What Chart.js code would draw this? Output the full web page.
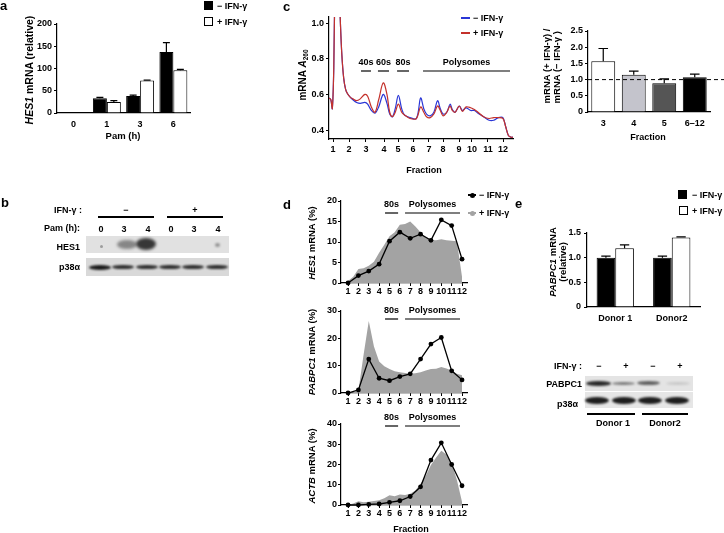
<!DOCTYPE html>
<html>
<head>
<meta charset="utf-8">
<script src="https://cdn.jsdelivr.net/npm/chart.js@4.4.1/dist/chart.umd.min.js"></script>
<style>
html, body { margin: 0; padding: 0; background: #fff; overflow: hidden; }
#page { position: relative; width: 724px; height: 533px; overflow: hidden;
        font-family: "Liberation Sans", Arial, sans-serif; font-weight: bold; color: #000; }
#page canvas { position: absolute; left: 0; top: 0; }
.t { position: absolute; white-space: nowrap; line-height: 1; font-size: 9px; }
.t sub { font-size: 6.5px; vertical-align: -2px; }
.blk { position: absolute; }
</style>
</head>
<body>
<div id="page"></div>
<script>
// ---- panel a : HES1 mRNA vs Pam time
const aCats = ['0', '1', '3', '6'];
const aMinus = [1, 33, 38, 137];
const aPlus = [1, 25, 73, 96];
const aMinusErr = [0, 2, 2, 21];
const aPlusErr = [0, 3, 1, 2];
const aYTicks = [0, 50, 100, 150, 200];

// ---- panel c (left) : A260 polysome profile
const cPos = [0, 1, 1.8, 2.6, 3.2, 4.2, 5.2, 6.2, 7, 8, 9, 10, 11.5, 13, 15, 17, 19.5, 21, 23, 25,
  27, 29.5, 31.5, 33, 34.5, 36, 37.7, 39.5, 41, 44, 47.5, 49.8, 51.5, 53, 55, 57, 59, 60.5, 62, 64,
  65.8, 67, 68.5, 70.8, 72.5, 74.5, 77, 79, 81, 84, 87, 89.5, 92, 94.5, 96, 97.5, 99, 100];
const cMinus = [0.58, 0.57, 0.52, 0.75, 1.2, 1.5, 1.3, 1.0, 0.82, 0.69, 0.63, 0.605, 0.585, 0.57, 0.555, 0.55, 0.555, 0.545, 0.51, 0.495,
  0.53, 0.6, 0.55, 0.49, 0.475, 0.52, 0.595, 0.52, 0.485, 0.47, 0.465, 0.58, 0.52, 0.49, 0.48, 0.5, 0.565, 0.52, 0.49, 0.5,
  0.545, 0.515, 0.5, 0.535, 0.51, 0.525, 0.51, 0.51, 0.495, 0.475, 0.455, 0.455, 0.47, 0.47, 0.42, 0.37, 0.36, 0.36];
const cPlus = [0.58, 0.57, 0.52, 0.75, 1.2, 1.5, 1.3, 1.0, 0.82, 0.69, 0.63, 0.605, 0.585, 0.575, 0.565, 0.575, 0.6, 0.59, 0.53, 0.5,
  0.57, 0.665, 0.6, 0.5, 0.475, 0.5, 0.545, 0.5, 0.485, 0.465, 0.465, 0.53, 0.5, 0.475, 0.47, 0.49, 0.535, 0.51, 0.48, 0.5,
  0.535, 0.51, 0.5, 0.535, 0.505, 0.53, 0.525, 0.515, 0.5, 0.475, 0.465, 0.47, 0.47, 0.465, 0.42, 0.37, 0.36, 0.36];
const cFracPos = [2.2, 10.9, 20.1, 29.9, 37.5, 45.7, 54.3, 62, 70.7, 77.7, 86.4, 94.6];
const cFracLabels = ['1', '2', '3', '4', '5', '6', '7', '8', '9', '10', '11', '12'];
const cYTicks = [0.4, 0.6, 0.8, 1.0];
const cBands = [
  { label: '40s', from: 17.4, to: 22.8 },
  { label: '60s', from: 26.6, to: 32.6 },
  { label: '80s', from: 37, to: 43.5 },
  { label: 'Polysomes', from: 51.1, to: 98.4 }
];

// ---- panel c (right) : ratio per fraction
const rCats = ['3', '4', '5', '6\u201312'];
const rRatio = [1.57, 1.15, 0.89, 1.07];
const rErr = [0.39, 0.11, 0.13, 0.1];
const rYTicks = [0, 0.5, 1, 1.5, 2, 2.5];

// ---- panel d : mRNA distribution across fractions
const dFrac = [1, 2, 3, 4, 5, 6, 7, 8, 9, 10, 11, 12];
const dFine = [1, 1.5, 2, 2.5, 3, 3.5, 4, 4.5, 5, 5.5, 6, 6.5, 7, 7.5, 8, 8.5, 9, 9.5, 10, 10.5, 11, 11.5, 12];
const hesMinus = [0, 1.8, 2.9, 4.6, 10.2, 12.4, 10.9, 11.9, 10.4, 15.4, 14.0, 5.8];
const hesPlus = [0.5, 1.5, 3.4, 3.6, 4.2, 5.2, 7.4, 9.3, 11.4, 12.4, 14.2, 14.4, 15.0, 13.8, 12.4, 11.0, 10.5, 10.4, 10.7, 10.4, 10.3, 10.2, 1.5];
const pabMinus = [0, 1.1, 12.4, 5.4, 4.5, 6.0, 7.0, 12.4, 17.9, 20.3, 8.1, 4.8];
const pabPlus = [0, 0.3, 0.8, 14, 26.3, 17, 11.5, 9.8, 8.8, 8.0, 7.6, 7.3, 7.0, 7.2, 7.6, 8.2, 8.8, 8.9, 9.5, 9.0, 8.2, 7.0, 6.5];
const actMinus = [0, 0, 0.3, 0.5, 1.3, 2.1, 4.2, 9.0, 22.2, 30.7, 20.0, 9.5];
const actPlus = [0, 0.8, 1.8, 1.3, 1.6, 2.0, 2.4, 3.3, 4.8, 4.3, 5.2, 5.0, 5.6, 7.2, 10.5, 14.5, 19.8, 23.5, 26.8, 25.0, 20.5, 12.5, 1.5];
const dBands = [
  { label: '80s', from: 4.57, to: 5.83 },
  { label: 'Polysomes', from: 6.5, to: 11.81 }
];

// ---- panel e : PABPC1 mRNA per donor
const eCats = ['Donor 1', 'Donor2'];
const eMinus = [1.0, 1.0];
const eMinusErr = [0.03, 0.03];
const ePlus = [1.19, 1.41];
const ePlusErr = [0.07, 0.01];
const eYTicks = [0, 0.5, 1, 1.5];

const page = document.getElementById('page');
const W = 724, H = 533, YW = 40, XH = 24;
const FONT = '"Liberation Sans", Arial, sans-serif';
const tickFont = { family: FONT, size: 9, weight: 'bold' };

// layout padding so that the chart area lands on the given page box
function place(l, t, r, b) {
  return { left: l - YW, top: t, right: W - r, bottom: H - b - XH };
}

function canvas() {
  const c = document.createElement('canvas');
  c.width = W; c.height = H;
  page.appendChild(c);
  return c;
}

function yAxis(min, max, ticks, fmt, pad) {
  return {
    type: 'linear', min: min, max: max,
    border: { color: '#000', width: 1.2 },
    grid: { drawOnChartArea: false, color: '#000', tickLength: 3 },
    ticks: { color: '#000', font: tickFont, padding: pad == null ? 2 : pad, callback: fmt },
    afterBuildTicks: s => { s.ticks = ticks.map(value => ({ value })); },
    afterFit: s => { s.width = YW; }
  };
}

function catAxis(pad) {
  return {
    type: 'category',
    border: { color: '#000', width: 1.2 },
    grid: { drawOnChartArea: false, tickColor: 'rgba(0,0,0,0)', tickLength: 4 },
    ticks: { color: '#000', font: tickFont, padding: pad == null ? 2 : pad, maxRotation: 0, autoSkip: false },
    afterFit: s => { s.height = XH; }
  };
}

function linX(min, max, ticks, fmt, pad) {
  return {
    type: 'linear', min: min, max: max,
    border: { color: '#000', width: 1.2 },
    grid: { drawOnChartArea: false, color: '#000', tickLength: 3 },
    ticks: { color: '#000', font: tickFont, padding: pad, maxRotation: 0, autoSkip: false, callback: fmt },
    afterBuildTicks: s => { s.ticks = ticks.map(value => ({ value })); },
    afterFit: s => { s.height = XH; }
  };
}

function base(padding, scales, pluginOpts) {
  return {
    responsive: false, animation: false, events: [],
    layout: { padding },
    elements: { line: { capBezierPoints: false } },
    plugins: Object.assign({ legend: { display: false }, tooltip: { enabled: false } }, pluginOpts || {}),
    scales
  };
}

const errorBars = {
  id: 'errorBars',
  afterDatasetsDraw(chart, args, opts) {
    if (!opts.errors) return;
    const ctx = chart.ctx, y = chart.scales.y;
    opts.errors.forEach((errs, di) => {
      const meta = chart.getDatasetMeta(di);
      meta.data.forEach((bar, i) => {
        const e = errs[i];
        if (!e) return;
        const v = chart.data.datasets[di].data[i];
        const top = y.getPixelForValue(v + e);
        const half = bar.width * opts.cap / 2;
        ctx.save();
        ctx.strokeStyle = '#000';
        ctx.lineWidth = 1.2;
        ctx.beginPath();
        ctx.moveTo(bar.x, bar.y); ctx.lineTo(bar.x, top);
        ctx.moveTo(bar.x - half, top); ctx.lineTo(bar.x + half, top);
        ctx.stroke();
        ctx.restore();
      });
    });
  }
};

const bands = {
  id: 'bands',
  afterDraw(chart, args, opts) {
    if (!opts.items) return;
    const ctx = chart.ctx, x = chart.scales.x;
    ctx.save();
    ctx.font = 'bold 9px ' + FONT;
    ctx.textAlign = 'center';
    ctx.textBaseline = 'middle';
    ctx.fillStyle = '#000';
    ctx.strokeStyle = '#000';
    ctx.lineWidth = 1.2;
    opts.items.forEach(b => {
      const x0 = x.getPixelForValue(b.from), x1 = x.getPixelForValue(b.to);
      ctx.fillText(b.label, (x0 + x1) / 2, opts.textY);
      ctx.beginPath();
      ctx.moveTo(x0, opts.barY); ctx.lineTo(x1, opts.barY);
      ctx.stroke();
    });
    ctx.restore();
  }
};

const refLine = {
  id: 'refLine',
  afterDatasetsDraw(chart, args, opts) {
    if (opts.value == null) return;
    const ctx = chart.ctx, yy = chart.scales.y.getPixelForValue(opts.value);
    ctx.save();
    ctx.strokeStyle = '#000';
    ctx.lineWidth = 1;
    ctx.setLineDash([4, 3]);
    ctx.beginPath();
    ctx.moveTo(chart.chartArea.left, yy); ctx.lineTo(chart.width, yy);
    ctx.stroke();
    ctx.restore();
  }
};

const pts = (xs, ys) => xs.map((x, i) => ({ x, y: ys[i] }));
const fmt1 = v => v === 0 ? '0' : v.toFixed(1);

// a
new Chart(canvas(), {
  type: 'bar',
  data: {
    labels: aCats,
    datasets: [
      { data: aMinus, backgroundColor: '#000', borderColor: '#000', borderWidth: 1, categoryPercentage: 0.84, barPercentage: 1 },
      { data: aPlus, backgroundColor: '#fff', borderColor: '#000', borderWidth: 1, categoryPercentage: 0.84, barPercentage: 1 }
    ]
  },
  options: base(place(57, 24, 190, 113), {
    x: catAxis(2),
    y: yAxis(0, 200, aYTicks, v => v)
  }, { errorBars: { errors: [aMinusErr, aPlusErr], cap: 0.5 } }),
  plugins: [errorBars]
});

// c left
new Chart(canvas(), {
  type: 'line',
  data: {
    datasets: [
      { data: pts(cPos, cPlus), borderColor: '#c4312b', borderWidth: 1.2, pointRadius: 0, tension: 0.35, fill: false },
      { data: pts(cPos, cMinus), borderColor: '#2a36d6', borderWidth: 1.2, pointRadius: 0, tension: 0.35, fill: false }
    ]
  },
  options: base(place(329, 17, 513, 139), {
    x: linX(0, 100, cFracPos, (v, i) => cFracLabels[i], 2),
    y: yAxis(0.35, 1.034, cYTicks, v => v.toFixed(1))
  }, { bands: { items: cBands, textY: 63, barY: 71 } }),
  plugins: [bands]
});

// c right
new Chart(canvas(), {
  type: 'bar',
  data: {
    labels: rCats,
    datasets: [{
      data: rRatio, backgroundColor: ['#ffffff', '#c4c4cc', '#555555', '#000000'],
      borderColor: '#000', borderWidth: 1, categoryPercentage: 0.8, barPercentage: 0.98
    }]
  },
  options: base(place(588, 31, 710, 112), {
    x: catAxis(2),
    y: yAxis(0, 2.5, rYTicks, fmt1)
  }, { errorBars: { errors: [rErr], cap: 0.4 }, refLine: { value: 1 } }),
  plugins: [errorBars, refLine]
});

// d : three stacked profiles
function profile(top, bottom, ymax, yticks, minus, plus, bandTextY, bandBarY) {
  new Chart(canvas(), {
    type: 'line',
    data: {
      datasets: [
        { data: pts(dFrac, minus), borderColor: '#000', backgroundColor: '#000', borderWidth: 1.3,
          pointRadius: 2.4, pointBorderWidth: 0, tension: 0, fill: false, clip: false },
        { data: pts(dFine, plus), borderWidth: 0, pointRadius: 0, tension: 0,
          fill: 'origin', backgroundColor: '#a3a3a3' }
      ]
    },
    options: base(place(341, top, 467, bottom), {
      x: linX(0.32, 12.48, dFrac, v => String(v), 0),
      y: yAxis(0, ymax, yticks, v => v, 1)
    }, { bands: { items: dBands, textY: bandTextY, barY: bandBarY } }),
    plugins: [bands]
  });
}
profile(201, 283, 20, [0, 5, 10, 15, 20], hesMinus, hesPlus, 205, 213);
profile(311, 393, 30, [0, 10, 20, 30], pabMinus, pabPlus, 311, 319);
profile(424, 505, 40, [0, 10, 20, 30, 40], actMinus, actPlus, 418, 426);

// e
new Chart(canvas(), {
  type: 'bar',
  data: {
    labels: eCats,
    datasets: [
      { data: eMinus, backgroundColor: '#000', borderColor: '#000', borderWidth: 1, categoryPercentage: 0.66, barPercentage: 1 },
      { data: ePlus, backgroundColor: '#fff', borderColor: '#000', borderWidth: 1, categoryPercentage: 0.66, barPercentage: 1 }
    ]
  },
  options: base(place(587, 233, 700, 307), {
    x: catAxis(2),
    y: yAxis(0, 1.5, eYTicks, fmt1, 3)
  }, { errorBars: { errors: [eMinusErr, ePlusErr], cap: 0.5 } }),
  plugins: [errorBars]
});

// ---- text, legends and blots
function put(x, y, html, align, size) {
  const el = document.createElement('div');
  el.className = 't';
  el.innerHTML = html;
  el.style.left = x + 'px';
  el.style.top = y + 'px';
  if (size) el.style.fontSize = size + 'px';
  const tx = align === 'r' ? '-100%' : align === 'c' ? '-50%' : '0';
  el.style.transform = 'translate(' + tx + ',-50%)';
  page.appendChild(el);
  return el;
}
function putRot(x, y, html, size, textAlign) {
  const el = put(x, y, html, 'c', size);
  el.style.transform = 'translate(-50%,-50%) rotate(-90deg)';
  el.style.textAlign = textAlign || 'center';
  el.style.lineHeight = '1.1';
  return el;
}
function rect(x, y, w, h, css) {
  const el = document.createElement('div');
  el.className = 'blk';
  el.style.cssText += 'left:' + x + 'px;top:' + y + 'px;width:' + w + 'px;height:' + h + 'px;' + (css || '');
  page.appendChild(el);
  return el;
}
function band(x, y, w, h, color, blur) {
  return rect(x, y, w, h, 'background:' + color + ';border-radius:50%;filter:blur(' + (blur || 0.8) + 'px);');
}

const MINUS = '\u2212 IFN-\u03b3', PLUS = '+ IFN-\u03b3';

// panel letters
put(0, 5, 'a', 'l', 13);
put(1, 201.5, 'b', 'l', 13);
put(283, 5.5, 'c', 'l', 13);
put(283, 203.5, 'd', 'l', 13);
put(515, 202.5, 'e', 'l', 13);

// a
putRot(30, 70, '<i>HES1</i> mRNA (relative)', 10.5);
put(123, 136, 'Pam (h)', 'c', 9.5);
rect(204, 1, 9, 9, 'background:#000;');
rect(204, 17, 9, 9, 'background:#fff;border:1px solid #000;box-sizing:border-box;');
put(217, 5.5, MINUS);
put(217, 21.5, PLUS);

// b blot
put(82, 210, 'IFN-\u03b3 :', 'r');
put(126, 210, '\u2212', 'c');
put(195, 210, '+', 'c');
rect(98, 216, 56, 1.5, 'background:#000;');
rect(167, 216, 56, 1.5, 'background:#000;');
put(80, 228, 'Pam (h):', 'r');
['0', '3', '4', '0', '3', '4'].forEach((s, i) => put([101, 124, 148, 171, 194, 218][i], 229, s, 'c'));
put(80, 247, 'HES1', 'r');
put(80, 267, 'p38\u03b1', 'r');
rect(86, 236, 143, 17, 'background:#e1e1e1;');
band(117, 240, 20, 9, 'rgba(60,60,60,0.55)', 1.5);
band(136, 238, 20, 12, 'rgba(25,25,25,0.85)', 1.5);
band(215, 243, 5, 4, 'rgba(0,0,0,0.35)', 0.8);
band(100, 245, 3, 3, 'rgba(0,0,0,0.3)', 0.6);
rect(86, 258, 143, 18, 'background:#d9d9d9;');
[100, 123, 147, 170, 193, 217].forEach((cx, i) => band(cx - 11, 264.5, 22, i === 0 ? 5 : 4.5, i === 0 ? '#1a1a1a' : '#2e2e2e', 0.8));

// c
putRot(303, 75, 'mRNA <i>A</i><sub>260</sub>', 10);
rect(461, 17, 9, 2, 'background:#2a36d6;');
rect(461, 32, 9, 2, 'background:#c4312b;');
put(473, 18, MINUS);
put(473, 33, PLUS);
put(424, 170, 'Fraction', 'c');
putRot(552, 66, 'mRNA (+ IFN-\u03b3) /<br>mRNA (\u2212 IFN-\u03b3 )', 9.5, 'left');
put(648, 137, 'Fraction', 'c');

// d
rect(468, 194, 8, 1.5, 'background:#000;');
rect(469.5, 192.5, 5, 5, 'background:#000;border-radius:50%;');
rect(468, 212, 8, 1.5, 'background:#a3a3a3;');
rect(469.5, 210.5, 5, 5, 'background:#a3a3a3;border-radius:50%;');
put(479, 195, MINUS);
put(479, 213, PLUS);
putRot(312, 243, '<i>HES1</i> mRNA (%)', 9.5);
putRot(312, 352, '<i>PABPC1</i> mRNA (%)', 9.5);
putRot(312, 466, '<i>ACTB</i> mRNA (%)', 9.5);
put(411, 528.5, 'Fraction', 'c');

// e
rect(678, 190, 9, 9, 'background:#000;');
rect(679, 206, 9, 9, 'background:#fff;border:1px solid #000;box-sizing:border-box;');
put(692, 195, MINUS);
put(692, 211, PLUS);
putRot(558, 262, '<i>PABPC1</i> mRNA<br>(relative)', 9.5);
put(582, 366, 'IFN-\u03b3 :', 'r');
['\u2212', '+', '\u2212', '+'].forEach((s, i) => put([599, 626, 653, 680][i], 366, s, 'c'));
put(582, 383.5, 'PABPC1', 'r');
put(578, 404, 'p38\u03b1', 'r');
rect(585, 376, 108, 15, 'background:#e4e4e4;');
band(586, 380.5, 25, 5.5, '#2a2a2a', 0.8);
band(612, 381.5, 23, 3.5, 'rgba(40,40,40,0.55)', 0.8);
band(637, 381, 23, 4, 'rgba(40,40,40,0.7)', 0.8);
band(666, 381.5, 24, 3, 'rgba(0,0,0,0.12)', 0.8);
rect(585, 392, 108, 16, 'background:#e6e6e6;');
[597, 624, 650, 677].forEach(cx => band(cx - 12, 396.5, 24, 7, '#1e1e1e', 0.8));
rect(587, 413, 48, 1.5, 'background:#000;');
rect(642, 413, 46, 1.5, 'background:#000;');
put(613, 423, 'Donor 1', 'c');
put(665, 423, 'Donor2', 'c');
</script>
</body>
</html>
